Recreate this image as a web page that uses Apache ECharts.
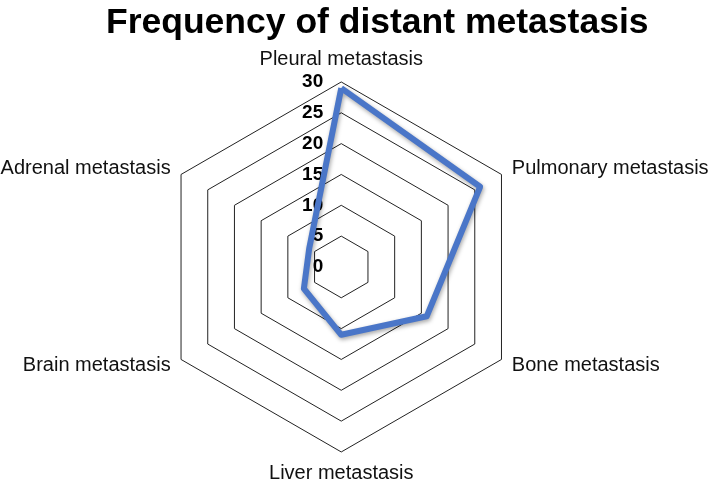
<!DOCTYPE html>
<html>
<head>
<meta charset="utf-8">
<script src="https://cdn.jsdelivr.net/npm/echarts@6/dist/echarts.min.js"></script>
<style>
  html, body { margin: 0; padding: 0; background: #fff; }
  #main { width: 708px; height: 481px; }
</style>
</head>
<body>
<div id="main"></div>
<script>
// categories, clockwise from top
const sites = ['Pleural metastasis', 'Pulmonary metastasis', 'Bone metastasis',
  'Liver metastasis', 'Brain metastasis', 'Adrenal metastasis'];
// frequency
const frequency = [29, 26, 16, 11, 7, 6];
const tickLabels = ['0', '5', '10', '15', '20', '25', '30'];

// echarts radar runs counter-clockwise, so keep the top one and reverse the rest
const ccw = arr => [arr[0]].concat(arr.slice(1).reverse());

const center = ['48.2%', '55.5%'];
const radius = 185;

const chart = echarts.init(document.getElementById('main'));

const option = {
  backgroundColor: '#fff',
  animation: false,
  title: {
    text: 'Frequency of distant metastasis',
    left: 101,
    top: 0,
    textStyle: {
      fontFamily: '"Liberation Sans", Arial, sans-serif',
      fontWeight: 'bold',
      fontSize: 35.5,
      color: '#000'
    }
  },
  radar: {
    center: center,
    radius: radius,
    startAngle: 90,
    shape: 'polygon',
    splitNumber: 6,
    indicator: ccw(sites).map(s => ({ name: s, min: 0, max: 30 })),
    axisName: {
      color: '#111',
      fontSize: 20,
      fontFamily: '"Liberation Sans", Arial, sans-serif'
    },
    nameGap: 12,
    axisLine: { show: false },
    splitArea: { show: false },
    splitLine: { lineStyle: { color: '#222', width: 1 } }
  },
  // polar only used for the tick labels on the top axis
  polar: { center: center, radius: radius },
  angleAxis: {
    startAngle: 90,
    show: false,
    type: 'value',
    min: 0,
    max: 360
  },
  radiusAxis: {
    min: 0,
    max: 30,
    interval: 5,
    axisLine: { show: false },
    axisTick: { show: false },
    splitLine: { show: false },
    axisLabel: {
      formatter: v => tickLabels[v / 5],
      fontWeight: 'bold',
      fontSize: 19,
      color: '#000',
      fontFamily: '"Liberation Sans", Arial, sans-serif',
      margin: 18
    }
  },
  series: [{
    type: 'radar',
    symbol: 'none',
    lineStyle: {
      color: '#4a76c8',
      width: 6,
      shadowColor: 'rgba(0,0,0,0.35)',
      shadowBlur: 4,
      shadowOffsetX: 1,
      shadowOffsetY: 2
    },
    data: [{ value: ccw(frequency), name: 'Frequency' }]
  }]
};

chart.setOption(option);
</script>
</body>
</html>
